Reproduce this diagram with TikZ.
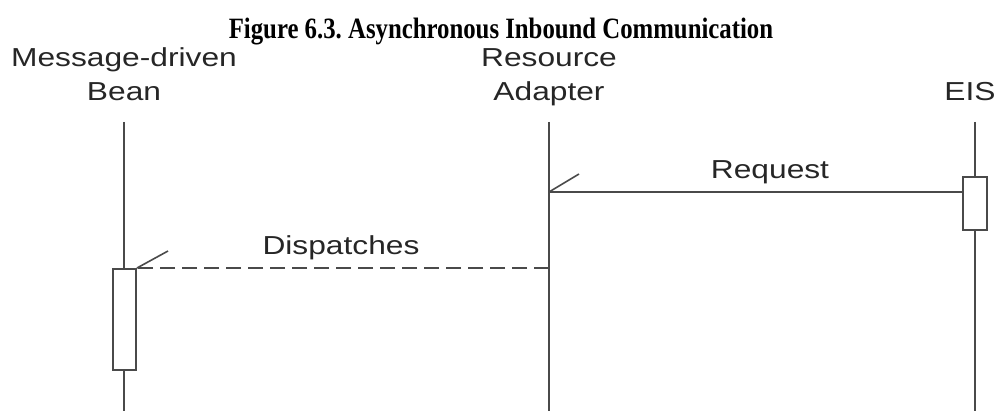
\documentclass[tikz,border=0pt]{standalone}
\usepackage{fontspec}
\setmainfont{Liberation Serif}
\setsansfont{Liberation Sans}
\frenchspacing
\newcommand{\wide}[1]{\scalebox{1.22}[1]{#1}}
\begin{document}
\begin{tikzpicture}[x=1pt,y=-1pt,
  life/.style={draw=lc,line width=2pt},
  actbox/.style={draw=lc,line width=2pt,fill=white},
  lbl/.style={font=\sffamily\fontsize{26}{30}\selectfont,text=black!85,inner sep=0pt,anchor=base},
  msg/.style={draw=lc,line width=2pt},
  tick/.style={draw=lc,line width=1.6pt}]
\definecolor{lc}{HTML}{4A4A4A}
\useasboundingbox (0,0) rectangle (1003,411);
\node[font=\bfseries\fontsize{29.5}{34}\selectfont,anchor=base,inner sep=0pt] (title) at (501,39) {\scalebox{0.84}[1]{Figure 6.3. Asynchronous Inbound Communication}};
\node[lbl] (mdb1) at (124,67) {\wide{Message-driven}};
\node[lbl] (mdb2) at (124,101) {\wide{Bean}};
\node[lbl] (ra1) at (549,67) {\wide{Resource}};
\node[lbl] (ra2) at (549,101) {\wide{Adapter}};
\node[lbl] (eis) at (970,101) {\wide{EIS}};
\coordinate (mdbT) at (124,122); \coordinate (mdbB) at (124,411);
\coordinate (raT) at (549,122); \coordinate (raB) at (549,411);
\coordinate (eisT) at (975,122); \coordinate (eisB) at (975,411);
\draw[life] (mdbT) -- (mdbB);
\draw[life] (raT) -- (raB);
\draw[life] (eisT) -- (eisB);
\node[actbox,minimum width=23pt,minimum height=101pt,inner sep=0pt] (mdbact) at (124.5,319.5) {};
\node[actbox,minimum width=24pt,minimum height=53pt,inner sep=0pt] (eisact) at (975,203.5) {};
\coordinate (reqS) at (549,192);
\draw[msg] (reqS) -- (reqS -| eisact.west);
\node[lbl] (req) at (770,179) {\wide{Request}};
\coordinate (t1) at (579,174);
\draw[tick] (reqS) -- (t1);
\coordinate (dispS) at (549,268);
\draw[msg,dash pattern=on 15pt off 7pt] (dispS) -- (dispS -| mdbact.east);
\node[lbl] (disp) at (341,255) {\wide{Dispatches}};
\coordinate (dE) at (137,268);
\coordinate (t2) at (168,251);
\draw[tick] (dE) -- (t2);
\end{tikzpicture}
\end{document}
